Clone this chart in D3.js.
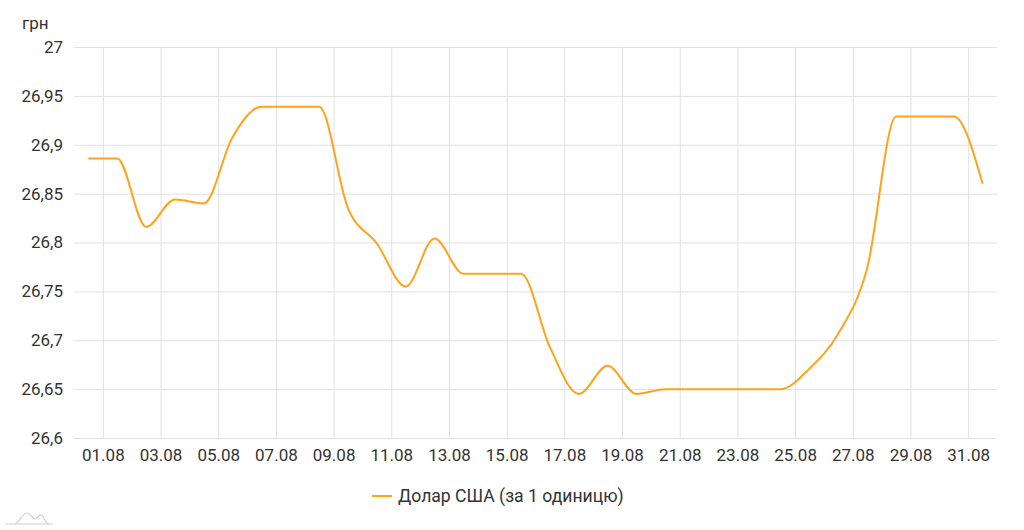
<!DOCTYPE html>
<html>
<head>
<meta charset="utf-8">
<script src="https://cdn.jsdelivr.net/npm/d3@7"></script>
<style>
  html, body { margin: 0; padding: 0; background: #fff; }
  svg { display: block; font-family: Roboto, "Noto Sans", sans-serif; }
</style>
</head>
<body>
<svg id="chart" width="1024" height="530"></svg>
<script>
// Data: one point per day, placed half a day off the labelled days
const dayPos = [0.5,1.5,2.5,3.5,4.5,5.5,6.5,7.5,8.5,9.5,10.5,11.5,12.5,13.5,14.5,15.5,16.5,17.5,18.5,19.5,20.5,21.5,22.5,23.5,24.5,25.5,26.5,27.5,28.5,29.5,30.5,31.5];
const usdRate = [26.886,26.886,26.816,26.844,26.840,26.908,26.939,26.939,26.939,26.835,26.799,26.755,26.804,26.768,26.768,26.768,26.693,26.645,26.674,26.645,26.650,26.650,26.650,26.650,26.650,26.671,26.707,26.774,26.929,26.929,26.929,26.860];
const xTickDays = [1,3,5,7,9,11,13,15,17,19,21,23,25,27,29,31];
const xTickLabels = ["01.08","03.08","05.08","07.08","09.08","11.08","13.08","15.08","17.08","19.08","21.08","23.08","25.08","27.08","29.08","31.08"];
const yTicks = [26.6,26.65,26.7,26.75,26.8,26.85,26.9,26.95,27];
const yUnit = "грн";
const seriesName = "Долар США (за 1 одиницю)";

const svg = d3.select("#chart");
const pL = 74, pR = 997, pT = 47, pB = 438;
const lineColor = "#ffa31a";
const gridColor = "#e1e1e1";
const textColor = "#333333";

const x = d3.scaleLinear().domain([0, 32]).range([pL, pR]);
const y = d3.scaleLinear().domain([26.6, 27]).range([pB, pT]);

const fmtY = v => String(+v.toFixed(2)).replace(".", ",");

// horizontal grid + y labels
const yAxis = d3.axisLeft(y).tickValues(yTicks).tickSize(-(pR - pL)).tickPadding(11).tickFormat(fmtY);
const gy = svg.append("g").attr("transform", `translate(${pL},0)`).call(yAxis);
gy.select(".domain").remove();
gy.selectAll(".tick line").attr("stroke", gridColor);
gy.selectAll(".tick text").attr("fill", textColor).style("font-size", "17px").style("font-family", "Roboto");

// vertical grid + x labels
const xAxis = d3.axisBottom(x).tickValues(xTickDays).tickSize(-(pB - pT)).tickPadding(11)
  .tickFormat((d, i) => xTickLabels[i]);
const gx = svg.append("g").attr("transform", `translate(0,${pB})`).call(xAxis);
gx.select(".domain").remove();
gx.selectAll(".tick line").attr("stroke", gridColor);
gx.selectAll(".tick text").attr("fill", textColor).style("font-size", "17px").style("font-family", "Roboto");

// unit label
svg.append("text").attr("x", 22).attr("y", 29).attr("fill", textColor)
  .style("font-size", "17px").text(yUnit);

// line
const line = d3.line().x((d, i) => x(dayPos[i])).y(d => y(d)).curve(d3.curveMonotoneX);
svg.append("path").datum(usdRate).attr("d", line)
  .attr("fill", "none").attr("stroke", lineColor).attr("stroke-width", 2).attr("stroke-linejoin", "round");

// legend
const lg = svg.append("g").attr("transform", "translate(372,496)");
lg.append("line").attr("x1", 0).attr("x2", 20).attr("y1", 0).attr("y2", 0)
  .attr("stroke", lineColor).attr("stroke-width", 2);
lg.append("text").attr("x", 26).attr("y", 0).attr("dy", "0.35em").attr("fill", textColor)
  .style("font-size", "17.6px").text(seriesName);

// small logo mark bottom-left
const logo = svg.append("g").attr("fill", "none").attr("stroke", "#cfcfcf").attr("stroke-width", 1.2);
logo.append("path").attr("d", "M5,524 L53,524");
logo.append("path").attr("d", "M15,524 C20,522 22,513 27,513 C31,513 32,519 35,519 C38,519 38,514 41,515 C44,516 45,522 48,524");
</script>
</body>
</html>
